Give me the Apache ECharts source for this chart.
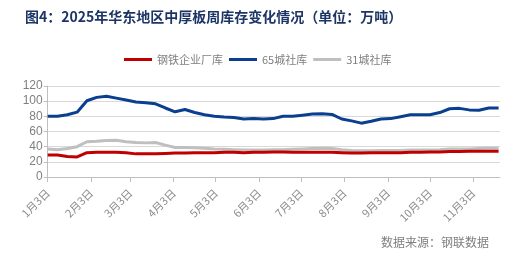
<!DOCTYPE html>
<html><head><meta charset="utf-8">
<script src="https://cdn.jsdelivr.net/npm/echarts@6/dist/echarts.min.js"></script>
<style>html,body{margin:0;padding:0;background:#fff}#c{width:524px;height:263px}</style>
</head><body><div id="c"></div>
<script>
const dates = ['2025-01-03','2025-01-10','2025-01-17','2025-01-24','2025-01-31','2025-02-07','2025-02-14','2025-02-21','2025-02-28','2025-03-07','2025-03-14','2025-03-21','2025-03-28','2025-04-04','2025-04-11','2025-04-18','2025-04-25','2025-05-02','2025-05-09','2025-05-16','2025-05-23','2025-05-30','2025-06-06','2025-06-13','2025-06-20','2025-06-27','2025-07-04','2025-07-11','2025-07-18','2025-07-25','2025-08-01','2025-08-08','2025-08-15','2025-08-22','2025-08-29','2025-09-05','2025-09-12','2025-09-19','2025-09-26','2025-10-03','2025-10-10','2025-10-17','2025-10-24','2025-10-31','2025-11-07','2025-11-14','2025-11-21'];
const steelMill = [29,29,27,26.5,32,32.5,32.5,32.5,32,30.5,30.5,30.5,31,31.5,31.5,32,32,32,32.5,32.5,32,32.5,32.5,33,33,32.5,32.5,32.5,32.5,32.5,32,31.5,31.5,32,32,32,32,32.5,32.5,33,33,33.5,33.5,34,34,34,34];
const city65 = [80,80,82,85.5,100.5,105,106.5,104,101.5,99,98,96.5,91,86,89,85,82,80,79,78.5,76.5,77,76.5,77,80,80,81.5,83,83.5,82.5,76.5,74,71,73.5,76.5,77,79.5,82,82,82,85,90,90.5,88.5,88,91,91];
const city31 = [37,36,37.5,40,46.5,47,48,48.5,46.5,45.5,45,45.5,42,39,39,38.5,38,37,36.5,36,35.5,35.5,35.5,36,36,36.5,37,37.5,38,37.5,36,35,34.5,34.5,35,35,35,35.5,35.5,35.5,36,37,37,37,37.5,38,38];
const seriesNames = ['钢铁企业厂库','65城社库','31城社库'];
const tickDates = ['2025-01-03','2025-02-03','2025-03-03','2025-04-03','2025-05-03','2025-06-03','2025-07-03','2025-08-03','2025-09-03','2025-10-03','2025-11-03'];
const tickLabels = ['1月3日','2月3日','3月3日','4月3日','5月3日','6月3日','7月3日','8月3日','9月3日','10月3日','11月3日'];
const axisStart = '2025-01-03', axisEnd = '2025-11-22';

function dayIdx(s){const p=s.split('-').map(Number);const b=axisStart.split('-').map(Number);return Math.round((Date.UTC(p[0],p[1]-1,p[2])-Date.UTC(b[0],b[1]-1,b[2]))/86400000);}
const tickVals = tickDates.map(dayIdx);
const labelMap = {}; tickVals.forEach((v,i)=>labelMap[v]=tickLabels[i]);
const mk = arr => arr.map((v,i)=>[dayIdx(dates[i]), v]);

const chart = echarts.init(document.getElementById('c'), null, {renderer:'canvas'});
const colors = ['#C00000','#0A3F8F','#BFBFBF'];
chart.setOption({
  animation:false,
  title:[{text:'图4：2025年华东地区中厚板周库存变化情况（单位：万吨）',left:20,top:5,textStyle:{fontSize:14,fontWeight:'bold',color:'#1C3466',fontFamily:'Noto Sans CJK SC'}},
         {text:'数据来源：钢联数据',right:30,top:231,textStyle:{fontSize:12,fontWeight:'normal',color:'#7F7F7F',fontFamily:'Noto Sans CJK SC'}}],
  legend:{top:49,left:119,itemWidth:28,itemHeight:3,itemGap:6,icon:'rect',
    textStyle:{fontSize:11,color:'#7F7F7F',fontFamily:'Noto Sans CJK SC'},data:seriesNames},
  grid:{left:47.7,right:24,top:86,bottom:86},
  xAxis:{type:'value',min:0,max:dayIdx(axisEnd),
    axisLine:{lineStyle:{color:'#BFBFBF'}},
    axisTick:{show:true,customValues:tickVals,length:5,lineStyle:{color:'#BFBFBF'}},
    axisLabel:{customValues:tickVals,rotate:45,margin:14,fontSize:11,color:'#8C8C8C',fontFamily:'Noto Sans CJK SC',formatter:v=>labelMap[v]||''},
    splitLine:{show:false}},
  yAxis:{type:'value',min:0,max:120,interval:20,
    axisLine:{show:true,lineStyle:{color:'#BFBFBF'}},
    axisTick:{show:true,length:4,lineStyle:{color:'#BFBFBF'}},
    axisLabel:{fontSize:12,color:'#7F7F7F',margin:5,fontFamily:'Liberation Sans'},
    splitLine:{lineStyle:{color:'#D9D9D9'}}},
  series:[
    {name:seriesNames[0],type:'line',data:mk(steelMill),showSymbol:false,lineStyle:{width:3,color:colors[0]},itemStyle:{color:colors[0]},z:3},
    {name:seriesNames[1],type:'line',data:mk(city65),showSymbol:false,lineStyle:{width:3,color:colors[1]},itemStyle:{color:colors[1]},z:2},
    {name:seriesNames[2],type:'line',data:mk(city31),showSymbol:false,lineStyle:{width:3,color:colors[2]},itemStyle:{color:colors[2]},z:1}
  ]
});
</script></body></html>
